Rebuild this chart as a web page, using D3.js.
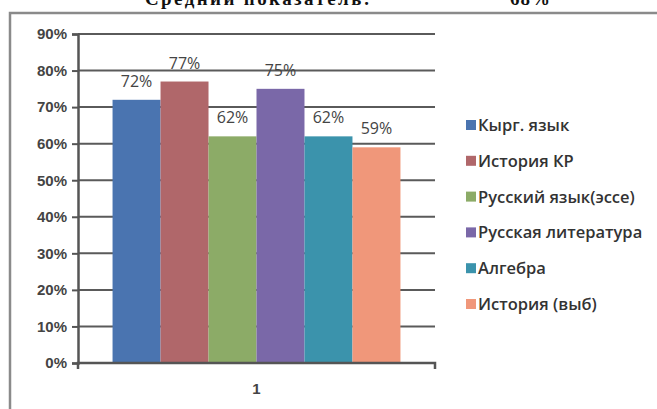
<!DOCTYPE html>
<meta charset="utf-8">
<style>
body{ margin:0; background:#fff; }
svg{ display:block; font-family:"Open Sans", "DejaVu Sans", sans-serif; }
.tick text{ fill:#444; }
</style>
<body>
<div id="chart"></div>
<script src="https://cdn.jsdelivr.net/npm/d3@7"></script>
<script>

// data
var categories = ['1']
var subjects = ['Кырг. язык', 'История КР', 'Русский язык(эссе)', 'Русская литература', 'Алгебра', 'История (выб)']
var values = [0.72, 0.77, 0.62, 0.75, 0.62, 0.59]
var colors = ['#4a74b0', '#b0676a', '#8cab67', '#7a68a8', '#3b93ac', '#f0977a']
var yTicks = [0, 0.1, 0.2, 0.3, 0.4, 0.5, 0.6, 0.7, 0.8, 0.9]
var header = ['Средний показатель:', '68%']

var W = 657, H = 409
var svg = d3.select('#chart').append('svg')
    .attr('width', W).attr('height', H)

// header text, clipped at the top of the page like the scan
svg.append('text')
    .attr('x', 145).attr('y', 5)
    .style('font-family', '"Liberation Serif", serif')
    .style('font-weight', 'bold').style('font-size', '19px')
    .style('letter-spacing', '2.4px')
    .attr('fill', '#111')
    .text(header[0])
svg.append('text')
    .attr('x', 510).attr('y', 5)
    .style('font-family', '"Liberation Serif", serif')
    .style('font-weight', 'bold').style('font-size', '19px')
    .style('letter-spacing', '1px')
    .attr('fill', '#111')
    .text(header[1])

// chart frame
svg.append('path')
    .attr('d', 'M10,' + H + ' V13 H' + W)
    .attr('fill', 'none').attr('stroke', '#8a8a8a').attr('stroke-width', 2.5)

// plot box (named so it does not clash with window.top)
var pL = 78, pR = 435, pT = 34, pB = 363

var y = d3.scaleLinear().domain([0, 0.9]).range([pB, pT])
var x0 = d3.scaleBand().domain(categories).range([pL, pR]).paddingInner(0).paddingOuter(0.12)
var x1 = d3.scaleBand().domain(subjects).range([0, x0.bandwidth()])

// gridlines
svg.append('g')
  .selectAll('line').data(yTicks.slice(1)).join('line')
    .attr('x1', pL).attr('x2', pR)
    .attr('y1', function(d){ return y(d) }).attr('y2', function(d){ return y(d) })
    .attr('stroke', '#5a5a5a').attr('stroke-width', 2)

// bars
var g = svg.append('g')
g.selectAll('rect').data(values).join('rect')
    .attr('x', function(d, i){ return x0(categories[0]) + x1(subjects[i]) })
    .attr('width', x1.bandwidth())
    .attr('y', function(d){ return y(d) })
    .attr('height', function(d){ return y(0) - y(d) })
    .attr('fill', function(d, i){ return colors[i] })

// data labels
g.selectAll('text').data(values).join('text')
    .attr('x', function(d, i){ return x0(categories[0]) + x1(subjects[i]) + x1.bandwidth() / 2 })
    .attr('y', function(d){ return y(d) - 13 })
    .attr('text-anchor', 'middle')
    .style('font-size', '16px')
    .attr('fill', '#444')
    .text(function(d){ return d3.format('.0%')(d) })

// y axis
var yAxis = d3.axisLeft(y).tickValues(yTicks).tickFormat(d3.format('.0%')).tickSize(6).tickPadding(5)
svg.append('g')
    .attr('transform', 'translate(' + pL + ',0)')
    .call(yAxis)
    .call(function(s){
      s.select('.domain').attr('stroke', '#555').attr('stroke-width', 2.5)
      s.selectAll('.tick line').attr('stroke', '#555').attr('stroke-width', 2)
      s.selectAll('.tick text').style('font-size', '15px').style('font-weight', '600')
    })

// x axis
var xAxis = d3.axisBottom(x0).tickSize(0).tickPadding(20)
svg.append('g')
    .attr('transform', 'translate(0,' + pB + ')')
    .call(xAxis)
    .call(function(s){
      s.select('.domain').attr('stroke', '#555').attr('stroke-width', 2.5)
        .attr('d', 'M' + pL + ',6V0H' + pR + 'V6')
      s.selectAll('.tick text').style('font-size', '15px').style('font-weight', '600').attr('fill', '#333')
    })

// legend
var legend = svg.append('g').attr('transform', 'translate(466,0)')
var ly = d3.scalePoint().domain(subjects).range([125, 304])
var item = legend.selectAll('g').data(subjects).join('g')
    .attr('transform', function(d){ return 'translate(0,' + ly(d) + ')' })
item.append('rect')
    .attr('x', 0).attr('y', -5).attr('width', 10).attr('height', 10)
    .attr('fill', function(d, i){ return colors[i] })
item.append('text')
    .attr('x', 12).attr('y', 6)
    .style('font-size', '16.5px').style('font-weight', '600')
    .attr('fill', '#333')
    .text(function(d){ return d })

</script>
